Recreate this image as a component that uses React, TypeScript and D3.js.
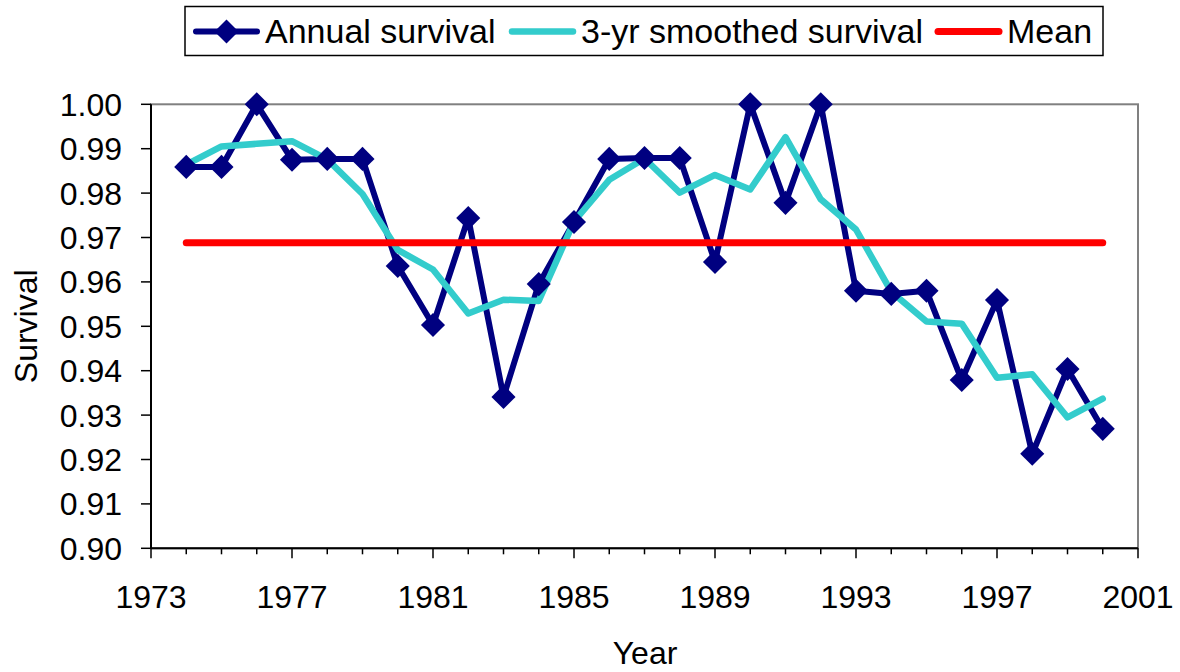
import React from "react";
import * as d3 from "d3";

const years = [1974,1975,1976,1977,1978,1979,1980,1981,1982,1983,1984,1985,1986,1987,1988,1989,1990,1991,1992,1993,1994,1995,1996,1997,1998,1999,2000];
const annual = [0.9859,0.9859,1.0,0.9875,0.9877,0.9877,0.9636,0.9503,0.9744,0.9341,0.9595,0.9735,0.9877,0.9879,0.9879,0.9645,1.0,0.9778,1.0,0.958,0.9573,0.958,0.9379,0.9559,0.9213,0.9404,0.9269];
const smoothed = [0.9864,0.9905,0.9911,0.9917,0.9876,0.9798,0.9672,0.9628,0.9529,0.956,0.9557,0.9736,0.983,0.9878,0.9801,0.9841,0.9808,0.9926,0.9786,0.9718,0.9578,0.9511,0.9506,0.9384,0.9392,0.9295,0.9337];
const meanValue = 0.9688;
const yTicks = [0.90,0.91,0.92,0.93,0.94,0.95,0.96,0.97,0.98,0.99,1.00];
const xMajorTicks = [1973,1977,1981,1985,1989,1993,1997,2001];
const xMinorTicks = d3.range(1973, 2002);
const legendLabels = ["Annual survival", "3-yr smoothed survival", "Mean"];

const NAVY = "#000080";
const CYAN = "#33CCCC";
const RED = "#FF0000";
const FONT = "'Liberation Sans', Arial, Helvetica, sans-serif";

export default function App() {
  const x = d3.scaleLinear().domain([1973, 2001]).range([151, 1138]);
  const y = d3.scaleLinear().domain([0.9, 1.0]).range([548.3, 104.3]);
  const line = d3.line<number>().x((_, i) => x(years[i])).y((v) => y(v));
  const diamond = d3.symbol().type(d3.symbolSquare).size(290)() as string;
  const meanLine = d3.line<number>().x((yr) => x(yr)).y(() => y(meanValue));

  return (
    <svg width={1180} height={672} style={{ position: "absolute", left: 0, top: 0, background: "#fff" }} fontFamily={FONT}>
      {/* plot frame */}
      <rect x={x(1973)} y={y(1.0)} width={x(2001) - x(1973)} height={y(0.9) - y(1.0)} fill="none" stroke="#808080" strokeWidth={2} />
      {/* axes */}
      <line x1={x(1973)} x2={x(1973)} y1={y(1.0)} y2={y(0.9)} stroke="#000" strokeWidth={2} />
      <line x1={x(1973)} x2={x(2001)} y1={y(0.9)} y2={y(0.9)} stroke="#000" strokeWidth={2} />
      {yTicks.map((t) => (
        <g key={"y" + t}>
          <line x1={x(1973) - 10} x2={x(1973)} y1={y(t)} y2={y(t)} stroke="#000" strokeWidth={1.5} />
          <text x={122} y={y(t) + 11.5} textAnchor="end" fontSize={32} fill="#000">{t.toFixed(2)}</text>
        </g>
      ))}
      {xMinorTicks.map((t) => (
        <line key={"xm" + t} x1={x(t)} x2={x(t)} y1={y(0.9)} y2={y(0.9) + (xMajorTicks.includes(t) ? 10 : 6)} stroke="#000" strokeWidth={1.5} />
      ))}
      {xMajorTicks.map((t) => (
        <text key={"xl" + t} x={x(t)} y={608} textAnchor="middle" fontSize={32} fill="#000">{t}</text>
      ))}
      <text x={645} y={664} textAnchor="middle" fontSize={32} fill="#000">Year</text>
      <text transform={`translate(37, ${(y(1) + y(0.9)) / 2}) rotate(-90)`} textAnchor="middle" fontSize={32} fill="#000">Survival</text>

      {/* series lines */}
      <path d={line(annual) as string} fill="none" stroke={NAVY} strokeWidth={6} strokeLinejoin="round" strokeLinecap="round" />
      <path d={line(smoothed) as string} fill="none" stroke={CYAN} strokeWidth={6.5} strokeLinejoin="round" strokeLinecap="round" />
      <path d={meanLine([years[0], years[years.length - 1]]) as string} fill="none" stroke={RED} strokeWidth={7} strokeLinecap="round" />
      {annual.map((v, i) => (
        <path key={"m" + i} d={diamond} transform={`translate(${x(years[i])},${y(v)}) rotate(45)`} fill={NAVY} />
      ))}

      {/* legend */}
      <rect x={185} y={6.5} width={918} height={49} fill="#fff" stroke="#000" strokeWidth={1.5} />
      <line x1={196} x2={257} y1={31.5} y2={31.5} stroke={NAVY} strokeWidth={6} strokeLinecap="round" />
      <path d={diamond} transform="translate(226.5,31.5) rotate(45)" fill={NAVY} />
      <text x={265} y={43} fontSize={34} fill="#000">{legendLabels[0]}</text>
      <line x1={512} x2={573} y1={31.5} y2={31.5} stroke={CYAN} strokeWidth={6.5} strokeLinecap="round" />
      <text x={581} y={43} fontSize={34} fill="#000">{legendLabels[1]}</text>
      <line x1={938} x2={999} y1={31.5} y2={31.5} stroke={RED} strokeWidth={7} strokeLinecap="round" />
      <text x={1007} y={43} fontSize={34} fill="#000">{legendLabels[2]}</text>
    </svg>
  );
}
